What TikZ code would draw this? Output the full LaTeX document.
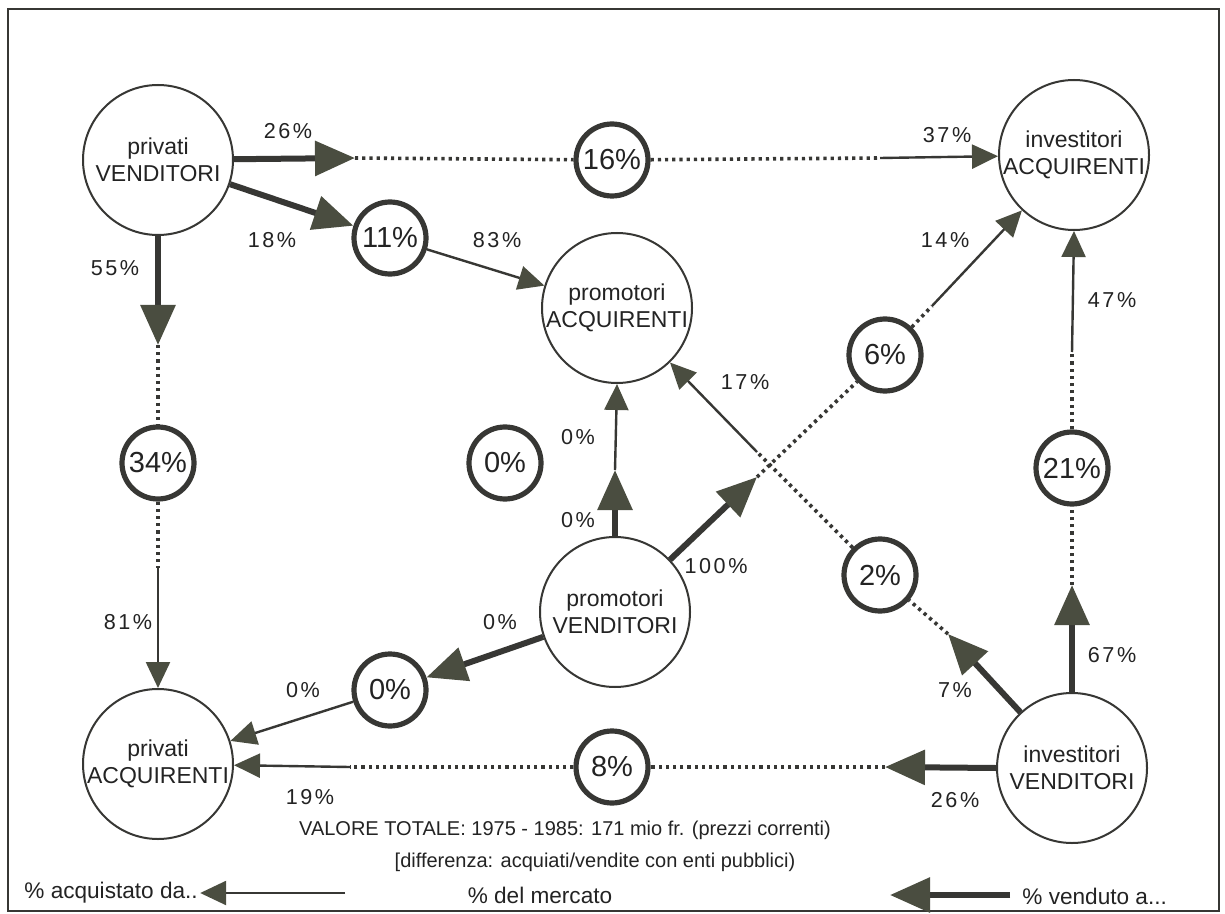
\documentclass[tikz,border=0pt]{standalone}
\usepackage{fontspec}
\setmainfont{Liberation Sans}
\newfontfamily\lblfont[LetterSpace=12]{Liberation Sans}
\usetikzlibrary{arrows.meta}
\definecolor{linec}{RGB}{55,55,52}
\definecolor{headc}{RGB}{74,77,64}
\definecolor{txtc}{RGB}{35,35,35}
\tikzset{
  bignode/.style={circle, draw=linec, line width=1pt, minimum size=75pt, inner sep=0pt, align=center, font=\fontsize{11.5}{13.5}\selectfont, text=txtc},
  smallnode/.style={circle, draw=linec, line width=2.6pt, minimum size=36pt, inner sep=0pt, font=\fontsize{14.5}{16}\selectfont, text=txtc},
  lbl/.style={font=\lblfont\fontsize{10.8}{12}\selectfont, text=txtc},
  note/.style={font=\fontsize{10}{12}\selectfont, text=txtc},
  legend/.style={font=\fontsize{11.3}{13}\selectfont, text=txtc},
  thickarr/.style={draw=linec, line width=3pt, -{Triangle[length=20pt,width=17pt,fill=headc,color=headc]}},
  thinarr/.style={draw=linec, line width=1.2pt, -{Triangle[length=13pt,width=12pt,fill=headc,color=headc]}},
  dotline/.style={draw=linec, line width=1.8pt, dash pattern=on 1.6pt off 2pt},
}
\begin{document}
\begin{tikzpicture}[x=0.5pt,y=-0.5pt]
\fill[white] (0,0) rectangle (1225,914);
\useasboundingbox (0,0) rectangle (1225,914);
\draw[linec, line width=1.2pt] (8,9) rectangle (1219,911);

% big nodes
\node[bignode] (pv) at (158,160) {privati\\VENDITORI};
\node[bignode] (ia) at (1074,155) {investitori\\ACQUIRENTI};
\node[bignode] (pa) at (617,308) {promotori\\ACQUIRENTI};
\node[bignode] (pvd) at (615,612) {promotori\\VENDITORI};
\node[bignode] (pacq) at (158,764) {privati\\ACQUIRENTI};
\node[bignode] (ivd) at (1072,768) {investitori\\VENDITORI};

% small nodes
\node[smallnode] (s16) at (612,160) {16\%};
\node[smallnode] (s11) at (390,238) {11\%};
\node[smallnode] (s34) at (158,463) {34\%};
\node[smallnode] (s0c) at (505,463) {0\%};
\node[smallnode] (s6) at (885,355) {6\%};
\node[smallnode] (s21) at (1072,468) {21\%};
\node[smallnode] (s2) at (880,575) {2\%};
\node[smallnode] (s0b) at (390,690) {0\%};
\node[smallnode] (s8) at (612,767) {8\%};

% free ends
\coordinate (a26) at (355,158);
\coordinate (m37) at (880,158);
\coordinate (a55) at (158,345);
\coordinate (m81) at (158,568);
\coordinate (a0v) at (615,470);
\coordinate (X) at (757,477);
\coordinate (m14) at (932,306);
\coordinate (m17) at (757,452);
\coordinate (a7) at (948,634);
\coordinate (a67) at (1072,585);
\coordinate (m47) at (1072,352);
\coordinate (a26b) at (885,767);
\coordinate (m19) at (350,767);

% dotted parts
\draw[dotline] (a26) -- (s16);
\draw[dotline] (s16) -- (m37);
\draw[dotline] (a55) -- (s34);
\draw[dotline] (s34) -- (m81);
\draw[dotline] (X) -- (s6);
\draw[dotline] (s6) -- (m14);
\draw[dotline] (a7) -- (s2);
\draw[dotline] (s2) -- (m17);
\draw[dotline] (a67) -- (s21);
\draw[dotline] (s21) -- (m47);
\draw[dotline] (a26b) -- (s8);
\draw[dotline] (s8) -- (m19);

% thick arrows (sellers)
\draw[thickarr] (pv) -- (a26);
\draw[thickarr] (pv) -- (s11);
\draw[thickarr] (pv.south) -- (a55);
\draw[thickarr] (pvd.north) -- (a0v);
\draw[thickarr] (pvd) -- (X);
\draw[thickarr] (pvd) -- (s0b);
\draw[thickarr] (ivd) -- (a7);
\draw[thickarr] (ivd.north) -- (a67);
\draw[thickarr] (ivd.west) -- (a26b);

% thin arrows (buyers)
\draw[thinarr] (m37) -- (ia);
\draw[thinarr] (s11) -- (pa);
\draw[thinarr] (m81) -- (pacq.north);
\draw[thinarr] (a0v) -- (pa.south);
\draw[thinarr] (m14) -- (ia);
\draw[thinarr] (m17) -- (pa);
\draw[thinarr] (m47) -- (ia.south);
\draw[thinarr] (m19) -- (pacq);
\draw[thinarr] (s0b) -- (pacq);

% labels
\node[lbl] (l26) at (288,131) {26\%};
\node[lbl] (l37) at (947,135) {37\%};
\node[lbl] (l18) at (272,240) {18\%};
\node[lbl] (l83) at (497,240) {83\%};
\node[lbl] (l55) at (115,268) {55\%};
\node[lbl] (l14) at (945,240) {14\%};
\node[lbl] (l47) at (1112,300) {47\%};
\node[lbl] (l17) at (745,382) {17\%};
\node[lbl] (l0a) at (578,437) {0\%};
\node[lbl] (l0b) at (578,520) {0\%};
\node[lbl] (l100) at (716,566) {100\%};
\node[lbl] (l67) at (1112,655) {67\%};
\node[lbl] (l7) at (955,690) {7\%};
\node[lbl] (l81) at (128,622) {81\%};
\node[lbl] (l0c) at (500,622) {0\%};
\node[lbl] (l0d) at (303,690) {0\%};
\node[lbl] (l19) at (310,797) {19\%};
\node[lbl] (l26b) at (955,800) {26\%};

% notes
\node[note] (tot) at (565,830) {VALORE TOTALE: 1975 - 1985: 171 mio fr. (prezzi correnti)};
\node[note] (diff) at (595,862) {[differenza: acquiati/vendite con enti pubblici)};
\node[legend, anchor=west, inner sep=1pt] (la) at (22,893) {\% acquistato da..};
\node[legend] (lm) at (540,895) {\% del mercato};
\node[legend, anchor=west, inner sep=1pt] (lv) at (1020,896) {\% venduto a...};
\coordinate (lb) at (345,893);
\coordinate (ld) at (1010,895);
\coordinate (le) at (890,895);
\draw[thinarr] (lb) -- (la.east);
\draw[thickarr] (ld) -- (le);
\end{tikzpicture}
\end{document}
